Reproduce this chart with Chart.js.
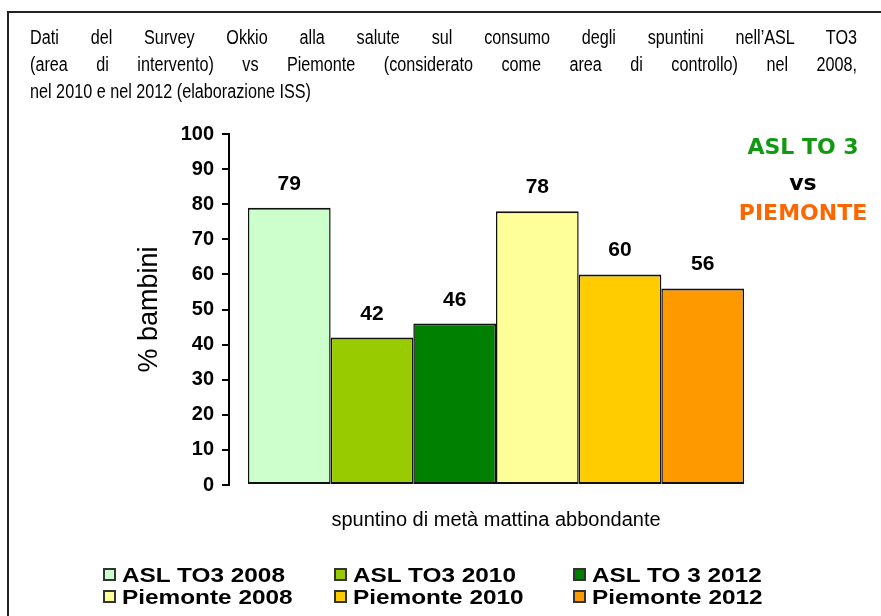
<!DOCTYPE html>
<html>
<head>
<meta charset="utf-8">
<script src="https://cdn.jsdelivr.net/npm/chart.js@4.4.1/dist/chart.umd.min.js"></script>
<style>
  body { margin: 0; background: #fff; }
  #wrap { position: relative; width: 881px; height: 616px; overflow: hidden; background: #fff; }
  #frame { position: absolute; left: 7px; top: 11px; width: 900px; height: 700px; border: 2px solid #222; }
  #chart { position: absolute; left: 0; top: 0; }
  /* title font is a narrow sans in the original: squeeze Liberation Sans */
  .title { position: absolute; left: 30px; width: 1021px; font-family: "Liberation Sans", Arial, sans-serif;
           font-size: 20px; line-height: 27px; color: #000; white-space: nowrap;
           transform: scaleX(0.81); transform-origin: left top; }
  .just { text-align: justify; text-align-last: justify; }
  .versus { position: absolute; left: 723px; width: 160px; text-align: center; font-family: "DejaVu Sans", sans-serif;
            font-weight: bold; font-size: 22px; line-height: 26px; }
  .legend-item { position: absolute; height: 20px; font-family: "Liberation Sans", Arial, sans-serif; font-weight: bold;
                 font-size: 21px; line-height: 20px; color: #000; white-space: nowrap; }
  .legend-item .box { position: absolute; left: 0; top: 3px; width: 9px; height: 9px; border: 2px solid #333; }
  .legend-item .txt { position: absolute; left: 19px; top: 0; transform: scaleX(1.16); transform-origin: left center; }
</style>
</head>
<body>
<div id="wrap">
  <div id="frame"></div>
  <canvas id="chart" width="881" height="616"></canvas>
  <div class="title just" style="top:24px">Dati del Survey Okkio alla salute sul consumo degli spuntini nell’ASL TO3</div>
  <div class="title just" style="top:51px">(area di intervento) vs Piemonte (considerato come area di controllo) nel 2008,</div>
  <div class="title" style="top:78px">nel 2010 e nel 2012 (elaborazione ISS)</div>
  <div class="versus" style="top:134px; color:#129912">ASL TO 3</div>
  <div class="versus" style="top:170px; color:#000">vs</div>
  <div class="versus" style="top:200px; color:#ff6600">PIEMONTE</div>
  <div id="legend"></div>
</div>
<script>
// Data
const categories = ['spuntino di metà mattina abbondante'];
const seriesNames = ['ASL TO3 2008', 'ASL TO3 2010', 'ASL TO 3 2012', 'Piemonte 2008', 'Piemonte 2010', 'Piemonte 2012'];
const seriesValues = [[79], [42], [46], [78], [60], [56]];
const seriesColors = ['#ccffcc', '#99cc00', '#008000', '#ffff99', '#ffcc00', '#ff9900'];
const yTicks = [0, 10, 20, 30, 40, 50, 60, 70, 80, 90, 100];

// Value labels above the bars
const valueLabels = {
    id: 'valueLabels',
    afterDatasetsDraw(chart) {
        const ctx = chart.ctx;
        ctx.save();
        ctx.font = 'bold 21px "Liberation Sans", Arial, sans-serif';
        ctx.fillStyle = '#000';
        ctx.textAlign = 'center';
        ctx.textBaseline = 'alphabetic';
        chart.data.datasets.forEach((ds, i) => {
            chart.getDatasetMeta(i).data.forEach((bar, j) => {
                ctx.fillText(ds.data[j], bar.x, bar.y - 18);
            });
        });
        ctx.restore();
    }
};

const chart = new Chart(document.getElementById('chart'), {
    type: 'bar',
    data: {
        labels: categories,
        datasets: seriesNames.map((name, i) => ({
            label: name,
            data: seriesValues[i],
            backgroundColor: seriesColors[i],
            borderColor: '#111',
            borderWidth: { top: 2, bottom: 2, left: 1.5, right: 1.5 },
            borderSkipped: false,
            categoryPercentage: 0.929,
            barPercentage: 1
        }))
    },
    options: {
        responsive: false,
        animation: false,
        layout: { padding: { left: 120, right: 118, top: 134, bottom: 0 } },
        plugins: {
            legend: { display: false },
            tooltip: { enabled: false }
        },
        scales: {
            x: {
                ticks: { display: false },
                grid: { display: false },
                border: { display: false },
                title: {
                    display: true,
                    text: categories[0],
                    color: '#000',
                    font: { family: '"Liberation Sans", Arial, sans-serif', size: 20 },
                    padding: { top: 0, bottom: 84 }
                },
                afterFit(scale) { scale.height = 131; }
            },
            y: {
                min: 0,
                max: 100,
                afterBuildTicks(scale) { scale.ticks = yTicks.map(v => ({ value: v })); },
                ticks: {
                    color: '#000',
                    padding: 8,
                    font: { family: '"Liberation Sans", Arial, sans-serif', size: 20, weight: 'bold' }
                },
                grid: { drawOnChartArea: false, drawTicks: true, tickLength: 7, color: '#000', lineWidth: 2 },
                border: { display: true, color: '#000', width: 2 },
                title: {
                    display: true,
                    text: '% bambini',
                    color: '#000',
                    font: { family: '"Liberation Sans", Arial, sans-serif', size: 27 },
                    padding: { top: 13, bottom: 0 }
                },
                afterFit(scale) { scale.width = 109; }
            }
        }
    },
    plugins: [valueLabels]
});

// Legend: 3 columns, 2 rows
const legendCols = [103, 334, 573];
const legendRows = [565, 587];
const legend = document.getElementById('legend');
chart.data.datasets.forEach((ds, i) => {
    const item = document.createElement('div');
    item.className = 'legend-item';
    item.style.left = legendCols[i % 3] + 'px';
    item.style.top = legendRows[Math.floor(i / 3)] + 'px';
    item.innerHTML = '<span class="box" style="background:' + ds.backgroundColor + '"></span><span class="txt">' + ds.label + '</span>';
    legend.appendChild(item);
});
</script>
</body>
</html>
